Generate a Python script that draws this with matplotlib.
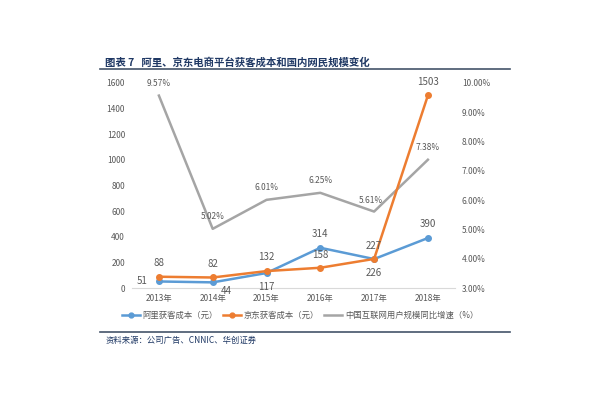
import matplotlib
matplotlib.use("Agg")
import matplotlib.pyplot as plt
from matplotlib.lines import Line2D

plt.rcParams['font.family'] = ['Noto Sans CJK SC', 'DejaVu Sans']

years = ['2013年', '2014年', '2015年', '2016年', '2017年', '2018年']
ali_cost = [51, 44, 117, 314, 226, 390]
jd_cost = [88, 82, 132, 158, 227, 1503]
net_growth = [9.57, 5.02, 6.01, 6.25, 5.61, 7.38]
left_ticks = [0, 200, 400, 600, 800, 1000, 1200, 1400, 1600]
right_ticks = [3, 4, 5, 6, 7, 8, 9, 10]

c_ali = '#5B9BD5'
c_jd = '#ED7D31'
c_gr = '#A5A5A5'
c_txt = '#595959'
c_title = '#1F3864'

fig = plt.figure(figsize=(6, 4), dpi=100)
ax = fig.add_axes([0.22, 0.28, 0.538, 0.5125])
ax2 = ax.twinx()

x = list(range(len(years)))
ax2.plot(x, net_growth, color=c_gr, lw=1.8, zorder=1)
ax.plot(x, ali_cost, color=c_ali, lw=1.8, marker='o', ms=4, zorder=3)
ax.plot(x, jd_cost, color=c_jd, lw=1.8, marker='o', ms=4, zorder=3)
ax.set_zorder(ax2.get_zorder() + 1)
ax.patch.set_visible(False)

ax.set_xlim(-0.5, 5.5)
ax.set_ylim(0, 1600)
ax2.set_ylim(3, 10)
ax.set_xticks(x)
ax.set_xticklabels(years)
ax.set_yticks(left_ticks)
ax2.set_yticks(right_ticks)
ax2.set_yticklabels([f'{v:.2f}%' for v in right_ticks])

for a in (ax, ax2):
    for s in a.spines.values():
        s.set_visible(False)
    a.tick_params(length=0, labelsize=6, colors=c_txt, pad=5)
ax.spines['bottom'].set_visible(True)
ax.spines['bottom'].set_color('#D9D9D9')
ax.tick_params(axis='x', pad=4)

fs = 7
ali_off = [(-12, 0), (10, -6), (0, -10), (0, 10), (0, -10), (0, 10)]
jd_off = [(0, 10), (0, 10), (0, 10), (0, 9), (0, 9), (0, 10)]
gr_off = [(0, 9), (0, 9), (0, 9), (0, 9), (-2, 8), (0, 9)]
for i in x:
    ax.annotate(str(ali_cost[i]), (i, ali_cost[i]), xytext=ali_off[i],
                textcoords='offset points', ha='center', va='center', fontsize=fs, color=c_txt)
    ax.annotate(str(jd_cost[i]), (i, jd_cost[i]), xytext=jd_off[i],
                textcoords='offset points', ha='center', va='center', fontsize=fs, color=c_txt)
    ax2.annotate(f'{net_growth[i]:.2f}%', (i, net_growth[i]), xytext=gr_off[i],
                 textcoords='offset points', ha='center', va='center', fontsize=6, color=c_txt)

handles = [
    Line2D([], [], color=c_ali, lw=1.8, marker='o', ms=3.5),
    Line2D([], [], color=c_jd, lw=1.8, marker='o', ms=3.5),
    Line2D([], [], color=c_gr, lw=1.8),
]
labels = ['阿里获客成本（元）', '京东获客成本（元）', '中国互联网用户规模同比增速（%）']
fig.legend(handles, labels, loc='center', bbox_to_anchor=(0.5, 1 - 315 / 400), ncol=3,
           frameon=False, fontsize=6, handlelength=2.2, columnspacing=0.6, handletextpad=0.3,
           labelcolor=c_txt)

fig.text(105 / 600, 1 - 62 / 400, '图表 7   阿里、京东电商平台获客成本和国内网民规模变化',
         fontsize=7.5, fontweight='bold', color=c_title, ha='left', va='center')
fig.add_artist(Line2D([100 / 600, 510 / 600], [1 - 68.5 / 400] * 2, color='#44546A', lw=1.2))
fig.add_artist(Line2D([100 / 600, 510 / 600], [1 - 332 / 400] * 2, color='#44546A', lw=1.2))
fig.text(106 / 600, 1 - 340.5 / 400, '资料来源：公司广告、CNNIC、华创证券',
         fontsize=6, style='italic', color=c_title, ha='left', va='center')

fig.savefig('out.png', dpi=100)
